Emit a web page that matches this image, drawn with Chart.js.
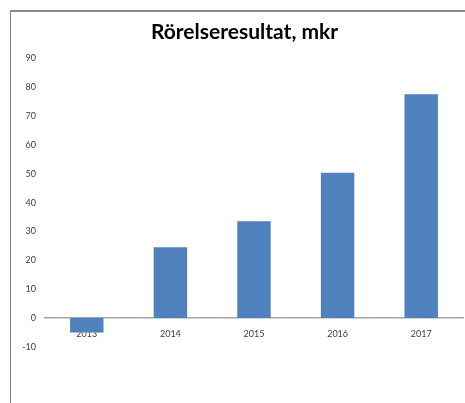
<!DOCTYPE html>
<html>
<head>
<meta charset="utf-8">
<script src="https://cdn.jsdelivr.net/npm/chart.js@4"></script>
<style>
    html, body { margin: 0; padding: 0; background: #fff; }
    #wrap { position: relative; width: 465px; height: 403px; overflow: hidden; }
    #frame {
        position: absolute; left: 10px; top: 10px; width: 470px; height: 400px;
        border-left: 1.5px solid #808080; border-top: 2px solid #8c8c8c;
    }
    canvas { position: absolute; left: 0; top: 0; }
</style>
</head>
<body>
<div id="wrap">
    <div id="frame"></div>
    <canvas id="chart" width="465" height="403"></canvas>
</div>
<script>
const years = ['2013', '2014', '2015', '2016', '2017'];
const result = [-5, 24.5, 33.5, 50.3, 77.5];
const yMin = -10;
const yMax = 90;
const yStep = 10;

// the title sits a bit right of the canvas centre in the original
const shiftTitle = {
    id: 'shiftTitle',
    afterLayout(chart) {
        if (chart.titleBlock) {
            chart.titleBlock.left += 26;
        }
    }
};

document.addEventListener('DOMContentLoaded', () => {
    const ctx = document.getElementById('chart');

    new Chart(ctx, {
        type: 'bar',
        data: {
            labels: years,
            datasets: [{
                label: 'Rörelseresultat',
                data: result,
                backgroundColor: '#4f81bd',
                borderWidth: 0,
                categoryPercentage: 1,
                barPercentage: 0.4
            }]
        },
        options: {
            responsive: false,
            animation: false,
            layout: { padding: { top: 0, right: 2, bottom: 56, left: 0 } },
            plugins: {
                legend: { display: false },
                tooltip: { enabled: false },
                title: {
                    display: true,
                    text: 'Rörelseresultat, mkr',
                    color: '#000',
                    font: { family: 'Lato', size: 21, weight: 'bold', lineHeight: 1.2 },
                    padding: { top: 20, bottom: 13 }
                }
            },
            scales: {
                x: {
                    position: { y: 0 },
                    grid: { display: false },
                    border: { display: true, color: '#a6a6a6', width: 1.5 },
                    ticks: {
                        color: '#404040',
                        font: { family: 'Lato', size: 9 },
                        padding: 3
                    }
                },
                y: {
                    min: yMin,
                    max: yMax,
                    grid: { display: false, drawTicks: false },
                    border: { display: false },
                    afterFit: (scale) => { scale.width = 45; },
                    ticks: {
                        stepSize: yStep,
                        color: '#404040',
                        font: { family: 'Lato', size: 9 },
                        padding: 9
                    }
                }
            }
        },
        plugins: [shiftTitle]
    });
});
</script>
</body>
</html>
